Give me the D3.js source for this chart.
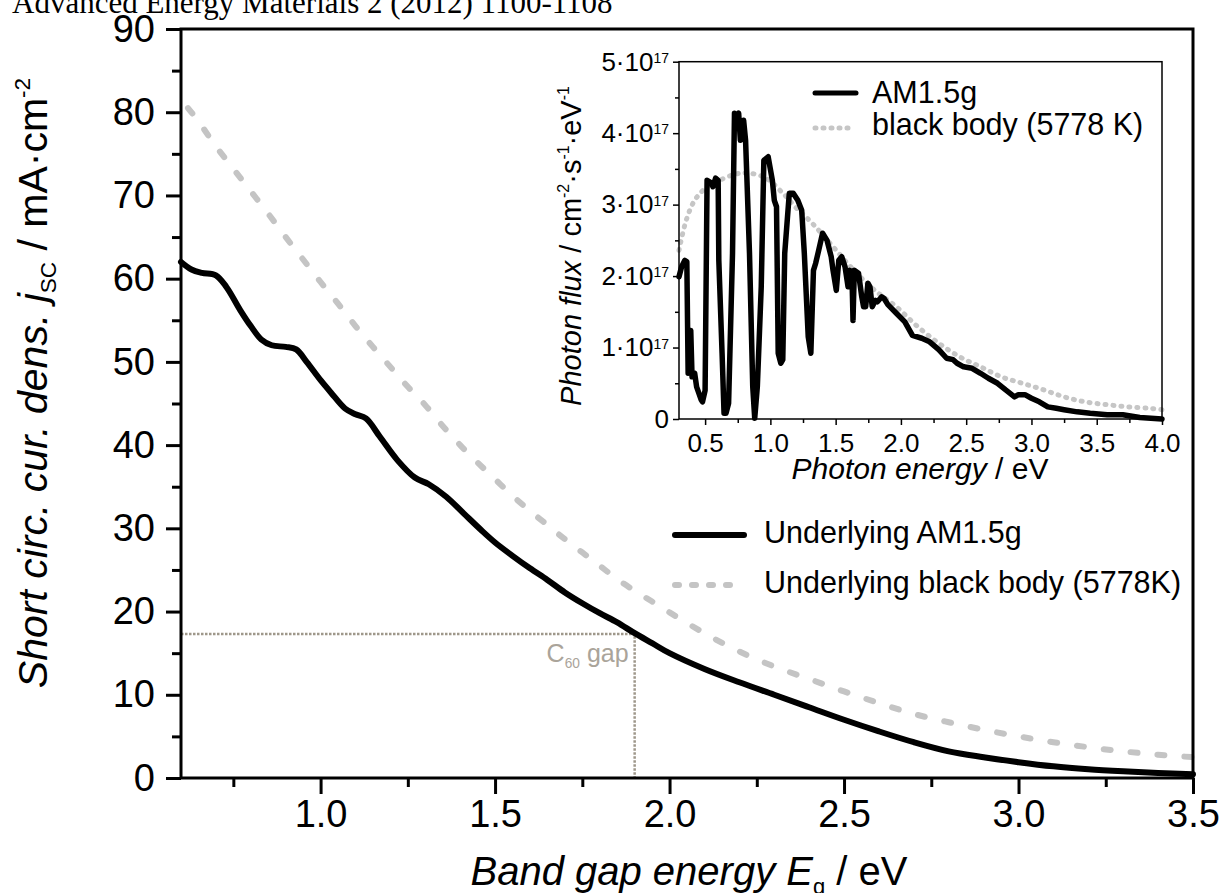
<!DOCTYPE html>
<html>
<head>
<meta charset="utf-8">
<script src="https://cdn.jsdelivr.net/npm/d3@7"></script>
<style>
  html, body { margin: 0; padding: 0; background: #fff; }
  svg { display: block; }
  text { font-family: "Liberation Sans", Arial, sans-serif; fill: #000; }
</style>
</head>
<body>
<svg id="chart" width="1226" height="893"></svg>
<script>
// ---------------- DATA ----------------
// Main chart: short-circuit current density vs band gap
const mainEnergy = [0.60,0.63,0.66,0.70,0.73,0.77,0.80,0.83,0.86,0.90,0.93,0.96,1.00,1.03,1.07,1.10,1.13,1.17,1.22,1.27,1.31,1.36,1.41,1.46,1.50,1.55,1.60,1.65,1.70,1.75,1.80,1.85,1.90,1.95,2.00,2.10,2.20,2.30,2.40,2.50,2.60,2.70,2.80,2.90,3.00,3.10,3.20,3.30,3.40,3.50];
const jscAM15 = [62.0,61.1,60.7,60.4,59.0,56.2,54.3,52.7,52.0,51.8,51.5,50.0,47.8,46.3,44.4,43.7,43.2,41.0,38.2,36.1,35.3,33.8,31.8,29.8,28.3,26.7,25.2,23.8,22.3,21.0,19.8,18.7,17.4,16.2,15.0,13.1,11.5,10.0,8.5,7.0,5.6,4.3,3.2,2.5,1.9,1.4,1.05,0.8,0.6,0.45];
const bbEnergy = [0.62,0.65,0.70,0.75,0.80,0.85,0.90,0.95,1.00,1.05,1.10,1.15,1.20,1.25,1.30,1.35,1.40,1.45,1.50,1.55,1.60,1.65,1.70,1.75,1.80,1.85,1.90,1.95,2.00,2.10,2.20,2.30,2.40,2.50,2.60,2.70,2.80,2.90,3.00,3.10,3.20,3.30,3.40,3.50];
const jscBlackBody = [80.5,78.9,75.9,73.2,70.5,67.8,65.0,62.3,59.6,57.0,54.3,51.8,49.4,47.0,44.8,42.3,40.0,37.9,35.9,33.9,32.1,30.4,28.7,27.1,25.5,23.9,22.5,21.2,19.9,17.4,15.2,13.4,11.9,10.4,9.0,7.7,6.7,5.8,5.0,4.3,3.7,3.2,2.8,2.5];
const c60Gap = { energy: 1.9, jsc: 17.3 };
const mainXTicks = [1.0,1.5,2.0,2.5,3.0,3.5];
const mainXMinor = [0.75,1.25,1.75,2.25,2.75,3.25];
const mainYTicks = [0,10,20,30,40,50,60,70,80,90];
const mainYMinor = [5,15,25,35,45,55,65,75,85];

// Inset: photon flux spectra (units of 1e17 cm^-2 s^-1 eV^-1)
const insetEnergyAM = [0.30,0.32,0.345,0.36,0.37,0.39,0.40,0.42,0.435,0.47,0.48,0.50,0.515,0.55,0.56,0.58,0.60,0.605,0.63,0.645,0.66,0.68,0.71,0.725,0.74,0.757,0.77,0.795,0.81,0.84,0.865,0.88,0.90,0.93,0.95,0.983,1.015,1.03,1.047,1.06,1.08,1.095,1.11,1.145,1.175,1.21,1.24,1.26,1.29,1.31,1.33,1.347,1.37,1.40,1.434,1.466,1.48,1.505,1.524,1.547,1.572,1.595,1.61,1.627,1.633,1.643,1.675,1.70,1.714,1.73,1.747,1.763,1.78,1.805,1.82,1.853,1.87,1.90,1.965,2.03,2.088,2.16,2.22,2.29,2.35,2.40,2.43,2.48,2.545,2.61,2.67,2.74,2.80,2.87,2.90,2.95,3.00,3.06,3.125,3.19,3.25,3.35,3.45,3.58,3.70,3.83,4.00];
const fluxAM15 = [1.99,2.13,2.22,2.20,0.64,1.24,0.59,0.64,0.45,0.27,0.24,0.40,3.34,3.30,3.25,3.37,3.34,2.22,0.92,0.08,0.08,0.22,2.32,4.28,4.18,4.28,3.90,4.18,3.90,2.32,0.45,0.01,0.45,1.85,3.62,3.67,3.34,3.06,2.97,0.92,0.78,0.83,2.32,3.16,3.16,3.06,2.92,2.32,1.15,0.92,2.08,2.18,2.36,2.60,2.50,2.27,2.08,1.80,2.22,2.27,2.13,1.85,2.08,1.85,1.38,2.08,2.04,1.71,1.57,1.57,1.90,1.85,1.57,1.66,1.64,1.71,1.69,1.60,1.48,1.36,1.17,1.13,1.08,0.97,0.85,0.83,0.78,0.73,0.71,0.64,0.57,0.50,0.41,0.31,0.34,0.34,0.29,0.24,0.17,0.15,0.13,0.10,0.08,0.06,0.06,0.02,0.00];
const insetEnergyBB = [0.30,0.355,0.42,0.515,0.61,0.74,0.84,0.967,1.095,1.19,1.32,1.48,1.64,1.80,1.965,2.13,2.29,2.45,2.61,2.77,2.93,3.09,3.25,3.41,3.58,3.74,3.90,4.00];
const fluxBlackBody = [2.36,2.78,3.06,3.25,3.34,3.43,3.44,3.37,3.16,2.97,2.74,2.41,2.08,1.80,1.57,1.29,1.06,0.87,0.73,0.59,0.50,0.41,0.31,0.24,0.20,0.17,0.15,0.13];
const insetXTicks = [0.5,1.0,1.5,2.0,2.5,3.0,3.5,4.0];
const insetXMinor = [0.75,1.25,1.75,2.25,2.75,3.25,3.75];
const insetYTicks = [0,1,2,3,4,5];
const insetYMinor = [0.5,1.5,2.5,3.5,4.5];

// ---------------- DRAW ----------------
const svg = d3.select("#chart");

// header text
svg.append("text").attr("x", 12).attr("y", 13)
  .style("font-family", "'Liberation Serif', 'Times New Roman', serif")
  .attr("font-size", 31).text("Advanced Energy Materials 2 (2012) 1100-1108");

function rich(parent, segs, size) {
  const t = parent.append("text").attr("font-size", size);
  let shift = 0;
  segs.forEach(s => {
    const ts = t.append("tspan").text(s.t);
    const target = s.pos === "sup" ? -0.42 * size : s.pos === "sub" ? 0.22 * size : 0;
    if (target - shift !== 0) ts.attr("dy", target - shift);
    shift = target;
    if (s.pos) ts.attr("font-size", size * 0.55);
    if (s.i) ts.attr("font-style", "italic");
  });
  return t;
}

// main scales
const x = d3.scaleLinear().domain([0.6, 3.5]).range([181, 1193]);
const y = d3.scaleLinear().domain([0, 90]).range([778, 29]);

// C60 gap guide
svg.append("path")
  .attr("d", `M${x(0.6)},${y(c60Gap.jsc)}H${x(c60Gap.energy)}V${y(0)}`)
  .attr("fill", "none").attr("stroke", "#9e978a").attr("stroke-width", 2.5)
  .attr("stroke-dasharray", "2.5 1.5");
const c60 = rich(svg, [{t:"C"},{t:"60",pos:"sub"},{t:" gap"}], 25)
  .attr("x", x(c60Gap.energy) - 6).attr("y", 662).attr("text-anchor", "end");
c60.style("fill", "#aaa49a");

// curves
const lineMain = d3.line().x(d => x(d[0])).y(d => y(d[1])).curve(d3.curveCatmullRom);
svg.append("path").datum(d3.zip(bbEnergy, jscBlackBody))
  .attr("d", lineMain).attr("fill", "none").attr("stroke", "#c4c4c4")
  .attr("stroke-width", 6).attr("stroke-linecap", "round").attr("stroke-dasharray", "7 20");
svg.append("path").datum(d3.zip(mainEnergy, jscAM15))
  .attr("d", lineMain).attr("fill", "none").attr("stroke", "#000")
  .attr("stroke-width", 6).attr("stroke-linecap", "round").attr("stroke-linejoin", "round");

// main axes
const gx = svg.append("g").attr("transform", `translate(0,${y(0)})`)
  .call(d3.axisBottom(x).tickValues(mainXTicks).tickFormat(d3.format(".1f")).tickSize(16).tickPadding(6));
const gxm = svg.append("g").attr("transform", `translate(0,${y(0)})`)
  .call(d3.axisBottom(x).tickValues(mainXMinor).tickFormat("").tickSize(9));
const gy = svg.append("g").attr("transform", `translate(${x(0.6)},0)`)
  .call(d3.axisLeft(y).tickValues(mainYTicks).tickFormat(d3.format("d")).tickSize(15).tickPadding(11));
const gym = svg.append("g").attr("transform", `translate(${x(0.6)},0)`)
  .call(d3.axisLeft(y).tickValues(mainYMinor).tickFormat("").tickSize(9));
[gx, gxm, gy, gym].forEach(g => {
  g.select(".domain").remove();
  g.selectAll(".tick line").attr("stroke", "#000").attr("stroke-width", 3);
  g.selectAll(".tick text").attr("font-size", 38).attr("font-family", "'Liberation Sans', Arial, sans-serif").attr("fill", "#000");
});
// frame
svg.append("rect").attr("x", x(0.6)).attr("y", y(90))
  .attr("width", x(3.5) - x(0.6)).attr("height", y(0) - y(90))
  .attr("fill", "none").attr("stroke", "#000").attr("stroke-width", 3);

// main axis titles
rich(svg, [{t:"Band gap energy ", i:true},{t:"E", i:true},{t:"g", pos:"sub"},{t:" / eV"}], 40)
  .attr("x", 689).attr("y", 885).attr("text-anchor", "middle");
const ytg = svg.append("g").attr("transform", "translate(47,383) rotate(-90)");
rich(ytg, [{t:"Short circ. cur. dens. ", i:true},{t:"j", i:true},{t:"SC", pos:"sub"},{t:" / mA·cm"},{t:"-2", pos:"sup"}], 41)
  .attr("x", 0).attr("y", 0).attr("text-anchor", "middle");

// main legend
svg.append("line").attr("x1", 675).attr("x2", 744).attr("y1", 535).attr("y2", 535)
  .attr("stroke", "#000").attr("stroke-width", 6).attr("stroke-linecap", "round");
svg.append("text").attr("x", 764).attr("y", 543).attr("font-size", 30.5).text("Underlying AM1.5g");
svg.append("line").attr("x1", 675).attr("x2", 731).attr("y1", 585).attr("y2", 585)
  .attr("stroke", "#c4c4c4").attr("stroke-width", 6).attr("stroke-linecap", "round").attr("stroke-dasharray", "4 13");
svg.append("text").attr("x", 764).attr("y", 593).attr("font-size", 30.5).text("Underlying black body (5778K)");

// ---------------- INSET ----------------
const ix = d3.scaleLinear().domain([0.3, 4.0]).range([679, 1162]);
const iy = d3.scaleLinear().domain([0, 5]).range([419, 61.7]);

svg.append("rect").attr("x", ix(0.3)).attr("y", iy(5))
  .attr("width", ix(4.0) - ix(0.3)).attr("height", iy(0) - iy(5))
  .attr("fill", "#fff").attr("stroke", "none");

svg.append("path").datum(d3.zip(insetEnergyBB, fluxBlackBody))
  .attr("d", d3.line().x(d => ix(d[0])).y(d => iy(d[1])).curve(d3.curveCatmullRom))
  .attr("fill", "none").attr("stroke", "#c6c6c6")
  .attr("stroke-width", 5).attr("stroke-linecap", "round").attr("stroke-dasharray", "1 7");
svg.append("path").datum(d3.zip(insetEnergyAM, fluxAM15))
  .attr("d", d3.line().x(d => ix(d[0])).y(d => iy(d[1]))).attr("fill", "none").attr("stroke", "#000")
  .attr("stroke-width", 5.5).attr("stroke-linecap", "round").attr("stroke-linejoin", "round");

const igx = svg.append("g").attr("transform", `translate(0,${iy(0)})`)
  .call(d3.axisBottom(ix).tickValues(insetXTicks).tickFormat(d3.format(".1f")).tickSize(6).tickPadding(9));
const igxm = svg.append("g").attr("transform", `translate(0,${iy(0)})`)
  .call(d3.axisBottom(ix).tickValues(insetXMinor).tickFormat("").tickSize(4));
const igy = svg.append("g").attr("transform", `translate(${ix(0.3)},0)`)
  .call(d3.axisLeft(iy).tickValues(insetYTicks).tickFormat(d => d === 0 ? "0" : "").tickSize(6).tickPadding(4));
const igym = svg.append("g").attr("transform", `translate(${ix(0.3)},0)`)
  .call(d3.axisLeft(iy).tickValues(insetYMinor).tickFormat("").tickSize(4));
[igx, igxm, igy, igym].forEach(g => {
  g.select(".domain").remove();
  g.selectAll(".tick line").attr("stroke", "#000").attr("stroke-width", 1.5);
  g.selectAll(".tick text").attr("font-size", 26).attr("font-family", "'Liberation Sans', Arial, sans-serif").attr("fill", "#000");
});
igy.selectAll(".tick text").each(function(d) {
  if (d === 0) return;
  const t = d3.select(this).text(null);
  t.append("tspan").text(d + "·10");
  t.append("tspan").text("17").attr("font-size", 14).attr("dy", "-0.55em");
});
svg.append("rect").attr("x", ix(0.3)).attr("y", iy(5))
  .attr("width", ix(4.0) - ix(0.3)).attr("height", iy(0) - iy(5))
  .attr("fill", "none").attr("stroke", "#000").attr("stroke-width", 1.5);

// inset titles
rich(svg, [{t:"Photon energy", i:true},{t:" / eV"}], 30)
  .attr("x", 920).attr("y", 479).attr("text-anchor", "middle");
const iyt = svg.append("g").attr("transform", "translate(581,246) rotate(-90)");
rich(iyt, [{t:"Photon flux", i:true},{t:" / cm"},{t:"-2",pos:"sup"},{t:"·s"},{t:"-1",pos:"sup"},{t:"·eV"},{t:"-1",pos:"sup"}], 29)
  .attr("x", 0).attr("y", 0).attr("text-anchor", "middle");

// inset legend
svg.append("line").attr("x1", 815).attr("x2", 856).attr("y1", 93).attr("y2", 93)
  .attr("stroke", "#000").attr("stroke-width", 5).attr("stroke-linecap", "round");
svg.append("text").attr("x", 872).attr("y", 103).attr("font-size", 30.5).text("AM1.5g");
svg.append("line").attr("x1", 815).attr("x2", 851).attr("y1", 128).attr("y2", 128)
  .attr("stroke", "#c6c6c6").attr("stroke-width", 5).attr("stroke-linecap", "round").attr("stroke-dasharray", "1 7");
svg.append("text").attr("x", 872).attr("y", 135).attr("font-size", 30.5).text("black body (5778 K)");
</script>
</body>
</html>
